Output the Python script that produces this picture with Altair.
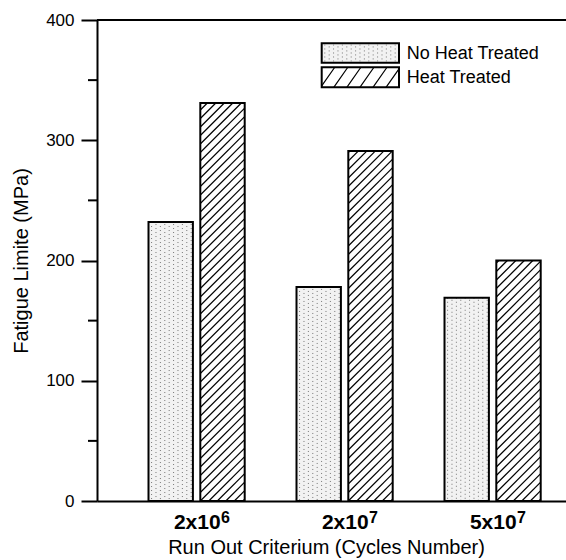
import altair as alt
import pandas as pd
import numpy as np

# ---------------- data ----------------
POSITIONS = [1, 2, 3]
CAT_BASE = ["2x10", "2x10", "5x10"]
CAT_EXP = ["6", "7", "7"]
SERIES = ["No Heat Treated", "Heat Treated"]
NO_HEAT = [232, 178, 169]
HEAT = [331, 291, 200]
Y_TICKS = [0, 100, 200, 300, 400]
MINOR_TICKS = [50, 150, 250, 350]

# ---------------- layout / style ----------------
W, H = 469, 481
PAD = {"left": 97, "top": 20, "right": 0, "bottom": 59}
X_DOMAIN = [0.327, 0.327 + W / 148.0]
Y_DOMAIN = [Y_TICKS[0], Y_TICKS[-1]]
PX_X = W / (X_DOMAIN[1] - X_DOMAIN[0])
PX_Y = H / (Y_DOMAIN[1] - Y_DOMAIN[0])
BAR_W = 0.30
HALF_GAP = 0.025
FONT = "Liberation Sans"
DOT_BG = "#f2f2f2"
DOT_COLOR = "#777777"
DOT_STEP = 4.4     # px between stipple columns
HATCH_STEP = 8.5   # px, vertical spacing of hatch lines

xs = alt.Scale(domain=X_DOMAIN, nice=False, zero=False)
ys = alt.Scale(domain=Y_DOMAIN, nice=False)

rows = []
for p, a, b in zip(POSITIONS, NO_HEAT, HEAT):
    rows.append({"pos": p, "series": SERIES[0], "value": a,
                 "x0": p - HALF_GAP - BAR_W, "x1": p - HALF_GAP, "zero": 0})
    rows.append({"pos": p, "series": SERIES[1], "value": b,
                 "x0": p + HALF_GAP, "x1": p + HALF_GAP + BAR_W, "zero": 0})
df_bars = pd.DataFrame(rows)

# hatch segments (45 degrees in pixel space) clipped to each hatched bar,
# stipple columns for the plain bars
hrows = []
drows = []
for r in rows:
    wp = (r["x1"] - r["x0"]) * PX_X
    hp = r["value"] * PX_Y
    if r["series"] == SERIES[0]:
        j = 0
        while (j + 0.7) * DOT_STEP < wp - 1:
            drows.append({"dx": r["x0"] + (j + 0.7) * DOT_STEP / PX_X,
                          "dtop": r["value"], "zero": 0, "odd": j % 2})
            j += 1
        continue
    k0 = int(np.ceil(-wp / HATCH_STEP))
    k1 = int(np.floor(hp / HATCH_STEP))
    for k in range(k0, k1 + 1):
        c = k * HATCH_STEP
        if c >= 0:
            sx, sy = 0.0, c
        else:
            sx, sy = -c, 0.0
        if c + wp <= hp:
            ex, ey = wp, c + wp
        else:
            ex, ey = hp - c, hp
        if ex - sx < 0.5:
            continue
        hrows.append({"hx0": r["x0"] + sx / PX_X, "hy0": sy / PX_Y,
                      "hx1": r["x0"] + ex / PX_X, "hy1": ey / PX_Y})
df_hatch = pd.DataFrame(hrows)
df_dots = pd.DataFrame(drows)

df_cat = pd.DataFrame({"pos": POSITIONS, "base": CAT_BASE, "exp": CAT_EXP})

base = alt.Chart(df_bars)

fills = base.mark_rect(strokeWidth=0).encode(
    x=alt.X("x0:Q", scale=xs, axis=alt.Axis(
        title="Run Out Criterium (Cycles Number)", labels=False, ticks=False,
        grid=False, domain=True, domainColor="black", domainWidth=2,
        titleFont=FONT, titleFontSize=20, titleFontWeight="normal",
        titleColor="black", titleBaseline="alphabetic", titleY=52, titleX=229)),
    x2="x1:Q",
    y=alt.Y("value:Q", scale=ys, axis=alt.Axis(
        values=Y_TICKS, title="Fatigue Limite (MPa)", grid=False,
        tickSize=16, tickWidth=2, tickColor="black",
        domainColor="black", domainWidth=2,
        labelFont=FONT, labelFontSize=17, labelColor="black", labelPadding=7,
        titleFont=FONT, titleFontSize=20, titleFontWeight="normal",
        titleColor="black", titleAngle=270, titleBaseline="alphabetic",
        titleX=-70, titleY=H / 2)),
    y2="zero:Q",
    fill=alt.Fill("series:N", scale=alt.Scale(domain=SERIES, range=[DOT_BG, "#ffffff"]),
                  legend=None),
)

dots_even = alt.Chart(df_dots).transform_filter("datum.odd == 0").mark_rule(
    color=DOT_COLOR, strokeWidth=1, strokeDash=[1, 3]).encode(
    x="dx:Q", y="dtop:Q", y2="zero:Q")
dots_odd = alt.Chart(df_dots).transform_filter("datum.odd == 1").mark_rule(
    color=DOT_COLOR, strokeWidth=1, strokeDash=[1, 3], strokeDashOffset=2).encode(
    x="dx:Q", y="dtop:Q", y2="zero:Q")

hatch = alt.Chart(df_hatch).mark_rule(color="black", strokeWidth=1.2).encode(
    x="hx0:Q", x2="hx1:Q", y="hy0:Q", y2="hy1:Q")

outlines = base.mark_rect(fillOpacity=0, stroke="black", strokeWidth=2).encode(
    x="x0:Q", x2="x1:Q", y="value:Q", y2="zero:Q")

top_rule = alt.Chart(pd.DataFrame({"v": [Y_TICKS[-1]]})).mark_rule(
    color="black", strokeWidth=2).encode(y="v:Q", x=alt.value(0), x2=alt.value(W))

minor = alt.Chart(pd.DataFrame({"v": MINOR_TICKS})).mark_rule(
    color="black", strokeWidth=2).encode(y="v:Q", x=alt.value(-9), x2=alt.value(0))

cat_base = alt.Chart(df_cat).mark_text(
    align="right", baseline="alphabetic", dx=24, font=FONT, fontSize=21,
    fontWeight="bold", color="black").encode(x="pos:Q", y=alt.value(509), text="base:N")
cat_exp = alt.Chart(df_cat).mark_text(
    align="left", baseline="alphabetic", dx=24.5, dy=-6, font=FONT, fontSize=16,
    fontWeight="bold", color="black").encode(x="pos:Q", y=alt.value(509), text="exp:N")

# legend (drawn by hand)
leg_df1 = pd.DataFrame({"label": [SERIES[0]]})
leg_df2 = pd.DataFrame({"label": [SERIES[1]]})
LEG_X0, LEG_X1 = 224.7, 302.0
leg_r1 = alt.Chart(leg_df1).mark_rect(fill=DOT_BG, stroke="black", strokeWidth=2).encode(
    x=alt.value(LEG_X0), x2=alt.value(LEG_X1), y=alt.value(23.3), y2=alt.value(42.7))
leg_r2 = alt.Chart(leg_df2).mark_rect(fill="white", stroke="black", strokeWidth=2).encode(
    x=alt.value(LEG_X0), x2=alt.value(LEG_X1), y=alt.value(47.3), y2=alt.value(67.3))

# stipple path for legend box 1 (unit coords: x in [-1,1], y in [-0.25,0.25])
unit = (LEG_X1 - LEG_X0) / 2.0
dsegs = []
j = 0
while (j + 0.7) * DOT_STEP < (LEG_X1 - LEG_X0) - 1:
    xx = -1 + (j + 0.7) * DOT_STEP / unit
    yy = -0.22 + (0.05 if j % 2 else 0.0)
    while yy < 0.22:
        dsegs.append("M%.3f,%.3fL%.3f,%.3f" % (xx, yy, xx, yy + 1.0 / unit))
        yy += 4.0 / unit
    j += 1
leg_d = alt.Chart(leg_df1).mark_point(
    shape="".join(dsegs), size=(LEG_X1 - LEG_X0) ** 2, filled=False, stroke=DOT_COLOR,
    strokeWidth=1, opacity=1).encode(
    x=alt.value((LEG_X0 + LEG_X1) / 2), y=alt.value(33))

# hatch path for legend box 2 (unit coords: x in [-1,1], y in [-0.26,0.26])
run, rise, step = 0.364, 0.52, 0.338
segs = []
xb = -1 - run
while xb < 1:
    t0 = max(0.0, (-1 - xb) / run)
    t1 = min(1.0, (1 - xb) / run)
    if t1 - t0 > 0.02:
        segs.append("M%.3f,%.3fL%.3f,%.3f" % (xb + run * t0, 0.26 - rise * t0,
                                              xb + run * t1, 0.26 - rise * t1))
    xb += step
leg_h = alt.Chart(leg_df2).mark_point(
    shape="".join(segs), size=(LEG_X1 - LEG_X0) ** 2, filled=False, stroke="black",
    strokeWidth=1.2, opacity=1).encode(
    x=alt.value((LEG_X0 + LEG_X1) / 2), y=alt.value(57.3))

leg_t1 = alt.Chart(leg_df1).mark_text(align="left", baseline="middle", font=FONT,
                                      fontSize=18, color="black").encode(
    x=alt.value(309.7), y=alt.value(34), text="label:N")
leg_t2 = alt.Chart(leg_df2).mark_text(align="left", baseline="middle", font=FONT,
                                      fontSize=18, color="black").encode(
    x=alt.value(309.7), y=alt.value(57.7), text="label:N")

chart = alt.layer(
    fills, dots_even, dots_odd, hatch, outlines, top_rule, minor, cat_base, cat_exp,
    leg_r1, leg_d, leg_r2, leg_h, leg_t1, leg_t2
).properties(
    width=W, height=H, padding=PAD, autosize="none", background="white"
).configure_view(stroke=None)

chart.save("out.html", embed_options={"renderer": "svg", "actions": False})
